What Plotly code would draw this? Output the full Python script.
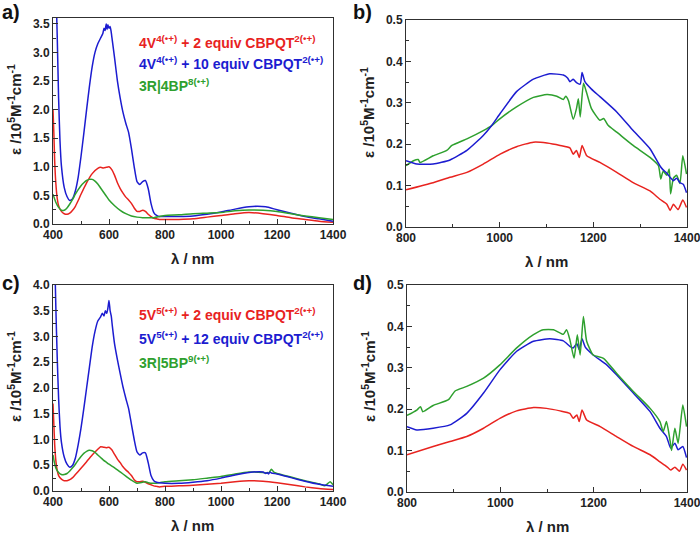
import plotly.graph_objects as go

# ---------------- data ----------------
# Panel a
a_blue_x = [402, 405, 410, 415, 420, 425, 430, 440, 450, 460, 470, 480, 490, 500, 510, 520, 530, 540, 550, 560, 570, 578, 582, 586, 590, 593, 596, 600, 604, 608, 612, 620, 630, 640, 650, 660, 670, 680, 690, 700, 710, 720, 730, 740, 750, 760, 770, 780, 800, 850, 900, 950, 1000, 1050, 1100, 1130, 1160, 1200, 1250, 1300, 1350, 1400]
a_blue_y = [5.5, 5.0, 4.2, 3.3, 2.2, 1.45, 1.02, 0.64, 0.48, 0.41, 0.44, 0.58, 0.82, 1.18, 1.58, 2.0, 2.4, 2.75, 3.0, 3.15, 3.25, 3.33, 3.42, 3.38, 3.5, 3.4, 3.48, 3.42, 3.45, 3.35, 3.2, 2.9, 2.5, 2.2, 1.95, 1.76, 1.6, 1.32, 1.0, 0.74, 0.69, 0.74, 0.76, 0.62, 0.36, 0.2, 0.15, 0.13, 0.13, 0.13, 0.14, 0.17, 0.21, 0.26, 0.3, 0.31, 0.3, 0.25, 0.19, 0.13, 0.09, 0.05]
a_red_x = [400, 403, 406, 410, 415, 420, 430, 440, 450, 460, 470, 480, 490, 500, 520, 540, 560, 570, 580, 590, 600, 610, 620, 630, 640, 650, 660, 670, 680, 690, 700, 710, 720, 730, 740, 750, 760, 770, 780, 800, 850, 900, 950, 1000, 1050, 1100, 1150, 1200, 1250, 1300, 1350, 1400]
a_red_y = [2.0, 1.6, 1.1, 0.72, 0.45, 0.32, 0.22, 0.18, 0.17, 0.19, 0.24, 0.31, 0.41, 0.52, 0.72, 0.88, 0.97, 0.99, 0.98, 0.99, 1.0, 0.95, 0.85, 0.72, 0.62, 0.54, 0.47, 0.42, 0.36, 0.28, 0.22, 0.22, 0.24, 0.22, 0.17, 0.13, 0.1, 0.09, 0.08, 0.08, 0.08, 0.09, 0.12, 0.15, 0.18, 0.2, 0.18, 0.15, 0.11, 0.08, 0.05, 0.03]
a_green_x = [400, 410, 420, 430, 440, 450, 460, 470, 480, 490, 500, 510, 520, 530, 540, 550, 560, 570, 580, 590, 600, 620, 640, 660, 680, 700, 720, 740, 760, 780, 800, 850, 900, 950, 1000, 1050, 1100, 1150, 1200, 1250, 1300, 1350, 1400]
a_green_y = [0.52, 0.38, 0.29, 0.24, 0.24, 0.28, 0.35, 0.43, 0.52, 0.6, 0.67, 0.72, 0.76, 0.78, 0.78, 0.75, 0.7, 0.63, 0.56, 0.49, 0.42, 0.32, 0.24, 0.18, 0.14, 0.12, 0.11, 0.11, 0.11, 0.13, 0.15, 0.16, 0.18, 0.19, 0.2, 0.23, 0.245, 0.24, 0.22, 0.18, 0.14, 0.11, 0.08]

# Panel b
b_blue_x = [800, 823, 858, 894, 930, 965, 983, 1001, 1036, 1072, 1107, 1136, 1145, 1150, 1157, 1164, 1172, 1176, 1182, 1196, 1214, 1250, 1285, 1321, 1342, 1349, 1357, 1364, 1371, 1378, 1385, 1392, 1399]
b_blue_y = [0.16, 0.152, 0.152, 0.162, 0.185, 0.221, 0.245, 0.274, 0.327, 0.357, 0.37, 0.367, 0.36, 0.351, 0.357, 0.349, 0.345, 0.373, 0.351, 0.333, 0.315, 0.278, 0.233, 0.189, 0.148, 0.138, 0.13, 0.12, 0.112, 0.118, 0.107, 0.103, 0.083]
b_green_x = [800, 816, 826, 830, 858, 887, 898, 930, 965, 983, 1001, 1036, 1072, 1101, 1122, 1136, 1141, 1147, 1157, 1164, 1168, 1172, 1179, 1186, 1196, 1214, 1222, 1232, 1250, 1285, 1321, 1339, 1344, 1349, 1357, 1362, 1365, 1371, 1378, 1385, 1391, 1399]
b_green_y = [0.148, 0.16, 0.163, 0.156, 0.172, 0.185, 0.197, 0.213, 0.233, 0.245, 0.262, 0.29, 0.313, 0.32, 0.316, 0.308, 0.316, 0.305, 0.26, 0.286, 0.31, 0.266, 0.347, 0.323, 0.286, 0.258, 0.262, 0.245, 0.229, 0.197, 0.168, 0.148, 0.116, 0.135, 0.125, 0.14, 0.08, 0.118, 0.125, 0.105, 0.172, 0.128]
b_red_x = [800, 858, 894, 930, 965, 1001, 1036, 1072, 1101, 1129, 1150, 1157, 1164, 1170, 1176, 1186, 1214, 1250, 1285, 1321, 1342, 1357, 1364, 1371, 1381, 1391, 1399]
b_red_y = [0.09, 0.107, 0.12, 0.132, 0.152, 0.176, 0.194, 0.205, 0.203, 0.197, 0.191, 0.176, 0.185, 0.168, 0.197, 0.172, 0.156, 0.132, 0.107, 0.087, 0.067, 0.055, 0.04, 0.055, 0.042, 0.065, 0.047]

# Panel c
c_blue_x = [402, 406, 410, 415, 420, 425, 430, 440, 450, 460, 470, 480, 490, 500, 510, 520, 530, 540, 550, 560, 570, 576, 582, 587, 592, 596, 600, 604, 608, 612, 620, 630, 640, 650, 660, 670, 680, 690, 700, 710, 720, 730, 740, 750, 760, 770, 780, 800, 850, 900, 950, 1000, 1050, 1100, 1150, 1160, 1165, 1170, 1175, 1180, 1200, 1250, 1300, 1350, 1400]
c_blue_y = [5.5, 4.6, 3.6, 2.6, 1.8, 1.25, 0.95, 0.66, 0.52, 0.46, 0.5, 0.64, 0.9, 1.22, 1.6, 2.0, 2.4, 2.8, 3.1, 3.3, 3.38, 3.45, 3.4, 3.5, 3.45, 3.55, 3.7, 3.5, 3.4, 3.2, 2.85, 2.55, 2.28, 2.02, 1.8, 1.6, 1.3, 1.0, 0.76, 0.7, 0.74, 0.74, 0.55, 0.3, 0.2, 0.17, 0.16, 0.15, 0.15, 0.17, 0.2, 0.25, 0.31, 0.36, 0.37, 0.34, 0.36, 0.33, 0.37, 0.35, 0.33, 0.26, 0.19, 0.13, 0.09]
c_red_x = [400, 403, 406, 410, 415, 420, 430, 440, 450, 460, 470, 480, 490, 500, 520, 540, 560, 570, 580, 590, 600, 610, 620, 630, 640, 650, 660, 670, 680, 690, 700, 710, 720, 730, 740, 750, 760, 770, 780, 800, 850, 900, 950, 1000, 1050, 1100, 1150, 1200, 1250, 1300, 1350, 1400]
c_red_y = [1.7, 1.3, 0.9, 0.6, 0.4, 0.3, 0.23, 0.2, 0.2, 0.22, 0.26, 0.32, 0.38, 0.44, 0.57, 0.7, 0.81, 0.86, 0.85, 0.84, 0.85, 0.8, 0.71, 0.62, 0.55, 0.47, 0.41, 0.36, 0.3, 0.22, 0.18, 0.18, 0.19, 0.17, 0.14, 0.12, 0.1, 0.09, 0.08, 0.09, 0.1, 0.11, 0.13, 0.15, 0.18, 0.2, 0.19, 0.16, 0.12, 0.08, 0.05, 0.03]
c_green_x = [400, 405, 410, 420, 430, 440, 450, 460, 470, 480, 490, 500, 510, 520, 530, 540, 550, 560, 570, 580, 590, 600, 620, 640, 660, 680, 700, 720, 730, 740, 760, 780, 800, 850, 900, 950, 1000, 1050, 1100, 1150, 1170, 1180, 1190, 1200, 1250, 1300, 1350, 1370, 1380, 1390, 1400]
c_green_y = [0.7, 0.55, 0.45, 0.36, 0.32, 0.32, 0.34, 0.39, 0.45, 0.52, 0.6, 0.67, 0.73, 0.77, 0.79, 0.78, 0.75, 0.7, 0.65, 0.6, 0.56, 0.52, 0.45, 0.37, 0.29, 0.21, 0.15, 0.17, 0.18, 0.16, 0.15, 0.16, 0.18, 0.2, 0.22, 0.25, 0.28, 0.33, 0.37, 0.36, 0.35, 0.42, 0.36, 0.34, 0.27, 0.2, 0.14, 0.1, 0.14, 0.18, 0.12]

# Panel d
d_green_x = [800, 821, 829, 834, 856, 889, 903, 928, 964, 999, 1035, 1071, 1092, 1114, 1135, 1142, 1149, 1158, 1165, 1171, 1178, 1185, 1199, 1221, 1249, 1285, 1321, 1342, 1349, 1356, 1364, 1367, 1374, 1381, 1391, 1399]
d_green_y = [0.185, 0.198, 0.206, 0.194, 0.209, 0.223, 0.244, 0.255, 0.275, 0.307, 0.348, 0.38, 0.392, 0.392, 0.381, 0.392, 0.368, 0.323, 0.38, 0.331, 0.424, 0.364, 0.331, 0.323, 0.287, 0.243, 0.202, 0.17, 0.146, 0.17, 0.122, 0.1, 0.154, 0.118, 0.21, 0.158]
d_blue_x = [800, 821, 856, 892, 928, 964, 999, 1035, 1071, 1106, 1135, 1149, 1156, 1164, 1169, 1175, 1182, 1199, 1228, 1249, 1285, 1321, 1342, 1356, 1365, 1374, 1381, 1391, 1399]
d_blue_y = [0.158, 0.15, 0.154, 0.162, 0.19, 0.239, 0.295, 0.34, 0.364, 0.37, 0.365, 0.352, 0.348, 0.358, 0.344, 0.37, 0.35, 0.331, 0.307, 0.283, 0.239, 0.194, 0.154, 0.134, 0.106, 0.118, 0.102, 0.11, 0.083]
d_red_x = [800, 856, 892, 928, 964, 999, 1035, 1071, 1099, 1128, 1149, 1156, 1164, 1169, 1175, 1185, 1214, 1249, 1285, 1321, 1342, 1356, 1365, 1374, 1384, 1391, 1399]
d_red_y = [0.09, 0.11, 0.122, 0.134, 0.154, 0.178, 0.196, 0.204, 0.202, 0.196, 0.19, 0.178, 0.186, 0.17, 0.198, 0.174, 0.158, 0.134, 0.11, 0.09, 0.073, 0.062, 0.053, 0.06, 0.05, 0.067, 0.053]

legend_a = ["4V<sup>4(•+)</sup> + 2 equiv CBPQT<sup>2(•+)</sup>",
            "4V<sup>4(•+)</sup> + 10 equiv CBPQT<sup>2(•+)</sup>",
            "3R|4BP<sup>8(•+)</sup>"]
legend_c = ["5V<sup>5(•+)</sup> + 2 equiv CBPQT<sup>2(•+)</sup>",
            "5V<sup>5(•+)</sup> + 12 equiv CBPQT<sup>2(•+)</sup>",
            "3R|5BP<sup>9(•+)</sup>"]
panel_labels = ["a)", "b)", "c)", "d)"]
y_title = "ε /10<sup>5</sup>M<sup>-1</sup>cm<sup>-1</sup>"
x_title = "λ / nm"

# ---------------- style ----------------
RED = "#e8231f"
BLUE = "#1c1cd0"
GREEN = "#2ea02e"
FONT = "Arial"
AX = "#303030"
W, H = 700, 534

def px2x(p):
    return p / W

def px2y(p):
    return 1 - p / H

fig = go.Figure()

panels = [
    ("1", (53, 333), (18, 224), [0, 3.6], 0.5, 0.25, [400, 1400],
     [(a_red_x, a_red_y, RED), (a_blue_x, a_blue_y, BLUE), (a_green_x, a_green_y, GREEN)]),
    ("2", (406, 687), (20, 227), [0, 0.5], 0.1, 0.05, [800, 1400],
     [(b_red_x, b_red_y, RED), (b_green_x, b_green_y, GREEN), (b_blue_x, b_blue_y, BLUE)]),
    ("3", (53, 333), (285, 491), [0, 4.0], 0.5, 0.25, [400, 1400],
     [(c_red_x, c_red_y, RED), (c_green_x, c_green_y, GREEN), (c_blue_x, c_blue_y, BLUE)]),
    ("4", (407, 687), (285, 492), [0, 0.5], 0.1, 0.05, [800, 1400],
     [(d_red_x, d_red_y, RED), (d_blue_x, d_blue_y, BLUE), (d_green_x, d_green_y, GREEN)]),
]

layout = dict(
    template="none",
    width=W, height=H, margin=dict(l=0, r=0, t=0, b=0, autoexpand=False),
    paper_bgcolor="white", plot_bgcolor="white", showlegend=False,
    font=dict(family=FONT, color="#222"),
)

annotations = []
for name, (x0, x1), (yt, yb), yr, ydt, ymn, xr, series in panels:
    xa = "x" if name == "1" else "x" + name
    ya = "y" if name == "1" else "y" + name
    for xs, ys, col in series:
        fig.add_trace(go.Scatter(x=xs, y=ys, mode="lines", xaxis=xa, yaxis=ya,
                                 line=dict(color=col, width=1.5, shape="spline", smoothing=0.5),
                                 hoverinfo="skip"))
    xkey = "xaxis" if name == "1" else "xaxis" + name
    ykey = "yaxis" if name == "1" else "yaxis" + name
    layout[xkey] = dict(
        domain=[px2x(x0), px2x(x1)], range=xr, anchor=ya, automargin=False,
        showgrid=False, zeroline=False, showline=True, linecolor=AX, linewidth=1,
        mirror=True, ticks="inside", ticklen=5, tickcolor=AX, dtick=200, tick0=400,
        ticklabeloverflow="allow",
        minor=dict(dtick=100, ticks="inside", ticklen=3, tickcolor=AX, showgrid=False),
        tickfont=dict(family=FONT, size=12, weight="bold", color="#222"),
    )
    layout[ykey] = dict(
        domain=[px2y(yb), px2y(yt)], range=yr, anchor=xa, automargin=False,
        showgrid=False, zeroline=False, showline=True, linecolor=AX, linewidth=1,
        mirror=True, ticks="inside", ticklen=5, tickcolor=AX, dtick=ydt, tick0=0,
        tickformat=".1f", ticklabeloverflow="allow",
        minor=dict(dtick=ymn, ticks="inside", ticklen=3, tickcolor=AX, showgrid=False),
        tickfont=dict(family=FONT, size=12, weight="bold", color="#222"),
    )
    annotations.append(dict(text=x_title, xref="paper", yref="paper",
                            x=px2x((x0 + x1) / 2), y=px2y(yb + 34), xanchor="center", yanchor="middle",
                            showarrow=False, font=dict(family=FONT, size=15, weight="bold", color="#222")))
    annotations.append(dict(text=y_title, xref="paper", yref="paper",
                            x=px2x(x0 - 39), y=px2y(yt + 92), xanchor="center", yanchor="middle",
                            textangle=-90, showarrow=False,
                            font=dict(family=FONT, size=15, weight="bold", color="#222")))

for lab, (px, py) in zip(panel_labels, [(11, 12), (362, 12), (11, 283), (362, 283)]):
    annotations.append(dict(text=lab, xref="paper", yref="paper", x=px2x(px), y=px2y(py),
                            xanchor="center", yanchor="middle", showarrow=False,
                            font=dict(family=FONT, size=20, weight="bold", color="#111")))

for texts, ys in [(legend_a, [42, 63, 85]), (legend_c, [314, 338, 362])]:
    for t, yy, col in zip(texts, ys, [RED, BLUE, GREEN]):
        annotations.append(dict(text=t, xref="paper", yref="paper", x=px2x(137), y=px2y(yy),
                                xanchor="left", yanchor="middle", showarrow=False,
                                font=dict(family=FONT, size=14, weight="bold", color=col)))

layout["annotations"] = annotations
fig.update_layout(**layout)
fig.write_html("out.html", config={"displayModeBar": False},
               post_script="document.body.style.margin='0';document.body.style.overflow='hidden';")
